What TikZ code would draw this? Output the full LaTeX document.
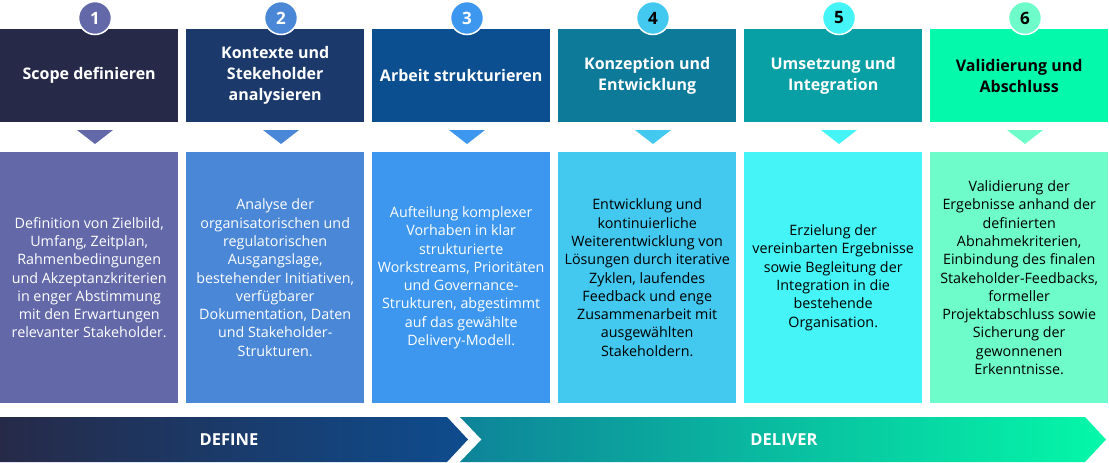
\documentclass[tikz,border=0pt]{standalone}
\usepackage{fontspec}
\setmainfont{Open Sans}
\usetikzlibrary{positioning}
\definecolor{hdA}{HTML}{262A48}
\definecolor{hdB}{HTML}{1B3A6B}
\definecolor{hdC}{HTML}{0C4F91}
\definecolor{hdD}{HTML}{0E7A9A}
\definecolor{hdE}{HTML}{08A0A5}
\definecolor{hdF}{HTML}{05F9AA}
\definecolor{ltA}{HTML}{6369A8}
\definecolor{ltB}{HTML}{4A87D6}
\definecolor{ltC}{HTML}{3E97EE}
\definecolor{ltD}{HTML}{43C8F0}
\definecolor{ltE}{HTML}{45F4F7}
\definecolor{ltF}{HTML}{6FFCCB}
\definecolor{defR}{HTML}{0E4C8E}
\definecolor{delL}{HTML}{0E8399}
\definecolor{delR}{HTML}{04F8A8}
\begin{document}
\begin{tikzpicture}[x=1pt,y=-1pt,
    head/.style={anchor=north west,minimum width=178pt,minimum height=93pt,inner sep=0pt,
      align=center,text=white,font=\bfseries\fontsize{16}{21}\selectfont},
    body/.style={anchor=north west,minimum width=178pt,minimum height=251pt,inner sep=0pt,
      align=center,text=white,font=\fontsize{14.3}{18.3}\selectfont},
    num/.style={circle,minimum size=33pt,inner sep=0pt,draw=white,line width=1.5pt,
      text=white,font=\bfseries\fontsize{17}{17}\selectfont},
    band/.style={text=white,font=\bfseries\fontsize{16.5}{16.5}\selectfont}]
  \useasboundingbox (0,0) rectangle (1109,463);
  % header boxes
  \node[head,fill=hdA] (h1) at (0,29) {Scope definieren};
  \node[head,fill=hdB] (h2) at (186,29) {Kontexte und\\Stekeholder\\analysieren};
  \node[head,fill=hdC] (h3) at (372,29) {Arbeit strukturieren};
  \node[head,fill=hdD] (h4) at (558,29) {Konzeption und\\Entwicklung};
  \node[head,fill=hdE] (h5) at (744,29) {Umsetzung und\\Integration};
  \node[head,fill=hdF,text=black] (h6) at (930,29) {Validierung und\\Abschluss};
  % numbers
  \node[num,fill=ltA] (n1) at (95,18) {1};
  \node[num,fill=ltB] (n2) at (281,18) {2};
  \node[num,fill=ltC] (n3) at (467,18) {3};
  \node[num,fill=ltD,text=black] (n4) at (653,18) {4};
  \node[num,fill=ltE,text=black] (n5) at (839,18) {5};
  \node[num,fill=ltF,text=black] (n6) at (1025,18) {6};
  % small triangles
  \fill[ltA] (77,130) -- (113,130) -- (95,144) -- cycle;
  \fill[ltB] (263,130) -- (299,130) -- (281,144) -- cycle;
  \fill[ltC] (449,130) -- (485,130) -- (467,144) -- cycle;
  \fill[ltD] (635,130) -- (671,130) -- (653,144) -- cycle;
  \fill[ltE] (821,130) -- (857,130) -- (839,144) -- cycle;
  \fill[ltF] (1007,130) -- (1043,130) -- (1025,144) -- cycle;
  % body boxes
  \node[body,fill=ltA] (b1) at (0,152) {Definition von Zielbild,\\Umfang, Zeitplan,\\Rahmenbedingungen\\und Akzeptanzkriterien\\in enger Abstimmung\\mit den Erwartungen\\relevanter Stakeholder.};
  \node[body,fill=ltB] (b2) at (186,152) {Analyse der\\organisatorischen und\\regulatorischen\\Ausgangslage,\\bestehender Initiativen,\\verfügbarer\\Dokumentation, Daten\\und Stakeholder-\\Strukturen.};
  \node[body,fill=ltC] (b3) at (372,152) {Aufteilung komplexer\\Vorhaben in klar\\strukturierte\\Workstreams, Prioritäten\\und Governance-\\Strukturen, abgestimmt\\auf das gewählte\\Delivery-Modell.};
  \node[body,fill=ltD,text=black] (b4) at (558,152) {Entwicklung und\\kontinuierliche\\Weiterentwicklung von\\Lösungen durch iterative\\Zyklen, laufendes\\Feedback und enge\\Zusammenarbeit mit\\ausgewählten\\Stakeholdern.};
  \node[body,fill=ltE,text=black] (b5) at (744,152) {Erzielung der\\vereinbarten Ergebnisse\\sowie Begleitung der\\Integration in die\\bestehende\\Organisation.};
  \node[body,fill=ltF,text=black] (b6) at (930,152) {Validierung der\\Ergebnisse anhand der\\definierten\\Abnahmekriterien,\\Einbindung des finalen\\Stakeholder-Feedbacks,\\formeller\\Projektabschluss sowie\\Sicherung der\\gewonnenen\\Erkenntnisse.};
  % phase band
  \shade[left color=hdA,right color=defR] (0,417) -- (447,417) -- (468,439.5) -- (447,462) -- (0,462) -- cycle;
  \shade[left color=delL,right color=delR] (460,417) -- (1085,417) -- (1106,439.5) -- (1085,462) -- (460,462) -- (481.5,439.5) -- cycle;
  \node[band] (define) at (229,440) {DEFINE};
  \node[band] (deliver) at (784,440) {DELIVER};
\end{tikzpicture}
\end{document}
